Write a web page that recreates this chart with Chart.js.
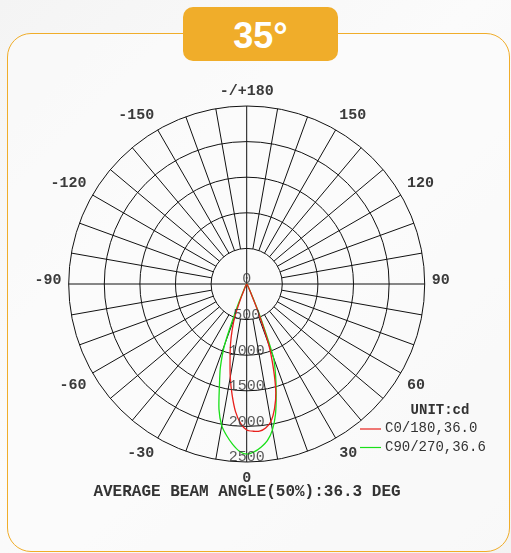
<!DOCTYPE html>
<html>
<head>
<meta charset="utf-8">
<script src="https://cdn.jsdelivr.net/npm/chart.js@4.4.0/dist/chart.umd.min.js"></script>
<style>
    html, body {
        margin: 0;
        padding: 0;
        width: 511px;
        height: 553px;
        overflow: hidden;
        background: linear-gradient(135deg, #f4f4f4 0%, #fbfbfb 45%, #f3f3f3 100%);
        font-family: "Liberation Sans", Arial, sans-serif;
    }
    .card {
        position: absolute;
        left: 7px;
        top: 33px;
        width: 501px;
        height: 517px;
        border: 1.5px solid #f0ad2a;
        border-radius: 24px;
        background: rgba(252, 252, 252, 0.6);
    }
    .badge {
        position: absolute;
        left: 183px;
        top: 7px;
        width: 155px;
        height: 54px;
        border-radius: 10px;
        background: #f0ad2a;
        color: #fff;
        font-weight: bold;
        font-size: 36px;
        line-height: 58px;
        text-align: center;
    }
    #chart {
        position: absolute;
        left: 0;
        top: 0;
    }
</style>
</head>
<body>
<div class="card"></div>
<div class="badge">35°</div>
<canvas id="chart" width="511" height="553"></canvas>
<script>
// gamma angles (deg from nadir) and intensities in cd
const gammaAngles = [0, 2.5, 5, 7.5, 10, 12.5, 15, 17.5, 20, 22.5, 25, 30, 40, 60, 90];
const c0Values = [2050, 2070, 2075, 2040, 1960, 1800, 1580, 1250, 900, 400, 120, 30, 5, 0, 0];
const c180Values = [2050, 1960, 1800, 1570, 1330, 1080, 880, 680, 480, 200, 60, 20, 5, 0, 0];
const c90Values = [2390, 2360, 2300, 2220, 2080, 1870, 1600, 1350, 1100, 500, 150, 40, 10, 0, 0];
const c270Values = [2390, 2350, 2260, 2150, 2020, 1800, 1480, 1230, 900, 350, 100, 30, 10, 0, 0];

const ringValues = [500, 1000, 1500, 2000, 2500];
const radialLabels = ['0', '500', '1000', '1500', '2000', '2500'];
const angleTicks = [0, 30, 60, 90, 120, 150, 180, 210, 240, 270, 300, 330];
const angleLabels = ['0', '30', '60', '90', '120', '150', '-/+180', '-150', '-120', '-90', '-60', '-30'];
const seriesNames = ['C0/180,36.0', 'C90/270,36.6'];
const unitLabel = 'UNIT:cd';
const footerText = 'AVERAGE BEAM ANGLE(50%):36.3 DEG';
const maxValue = 2500;

// one closed lobe: right half (going up from nadir reversed) then left half
function lobe(right, left) {
    const pts = [];
    for (let i = gammaAngles.length - 1; i >= 0; i--) {
        const g = gammaAngles[i] * Math.PI / 180;
        pts.push({ x: right[i] * Math.sin(g), y: -right[i] * Math.cos(g) });
    }
    for (let i = 1; i < gammaAngles.length; i++) {
        const g = gammaAngles[i] * Math.PI / 180;
        pts.push({ x: -left[i] * Math.sin(g), y: -left[i] * Math.cos(g) });
    }
    return pts;
}

const polarGrid = {
    id: 'polarGrid',
    beforeDatasetsDraw(chart) {
        const ctx = chart.ctx;
        const xs = chart.scales.x;
        const ys = chart.scales.y;
        const px = (v, a) => xs.getPixelForValue(v * Math.sin(a * Math.PI / 180));
        const py = (v, a) => ys.getPixelForValue(-v * Math.cos(a * Math.PI / 180));
        const cx = xs.getPixelForValue(0);
        const cy = ys.getPixelForValue(0);

        ctx.save();
        ctx.strokeStyle = '#111';
        ctx.lineWidth = 1;

        // rings
        ringValues.forEach(v => {
            const r = xs.getPixelForValue(v) - cx;
            ctx.beginPath();
            ctx.arc(cx, cy, r, 0, Math.PI * 2);
            ctx.stroke();
        });

        // spokes every 10 deg, from first ring out
        for (let a = 0; a < 360; a += 10) {
            const inner = (a % 90 === 0) ? 0 : ringValues[0];
            ctx.beginPath();
            ctx.moveTo(px(inner, a), py(inner, a));
            ctx.lineTo(px(maxValue, a), py(maxValue, a));
            ctx.stroke();
        }

        // angle labels: anchored just outside the outer ring
        ctx.fillStyle = '#3a3a3a';
        ctx.font = 'bold 15px "Liberation Mono", "Courier New", monospace';
        ctx.textBaseline = 'middle';
        const v = maxValue * 1.04;
        angleTicks.forEach((a, i) => {
            const s = Math.round(Math.sin(a * Math.PI / 180) * 1000) / 1000;
            const c = Math.round(Math.cos(a * Math.PI / 180) * 1000) / 1000;
            ctx.textAlign = s > 0 ? 'left' : (s < 0 ? 'right' : 'center');
            let dy = c > 0 ? 9 : (c < 0 ? -8 : -4);
            ctx.fillText(angleLabels[i], px(v, a), py(v, a) + dy);
        });
        ctx.restore();
    },
    afterDatasetsDraw(chart) {
        const ctx = chart.ctx;
        const xs = chart.scales.x;
        const ys = chart.scales.y;
        const cx = xs.getPixelForValue(0);
        ctx.save();

        // radial value labels
        ctx.fillStyle = 'rgba(60,60,60,0.85)';
        ctx.font = '15px "Liberation Mono", "Courier New", monospace';
        ctx.textAlign = 'center';
        ctx.textBaseline = 'middle';
        radialLabels.forEach((t, i) => {
            ctx.fillText(t, cx, ys.getPixelForValue(-i * 500) - 4.5);
        });

        // legend
        ctx.fillStyle = '#333';
        ctx.font = 'bold 14px "Liberation Mono", "Courier New", monospace';
        ctx.fillText(unitLabel, 440, 410);
        ctx.textAlign = 'left';
        ctx.font = '14px "Liberation Mono", "Courier New", monospace';
        chart.data.datasets.forEach((ds, i) => {
            const y = 429 + i * 18.5;
            ctx.strokeStyle = ds.borderColor;
            ctx.lineWidth = 1.2;
            ctx.beginPath();
            ctx.moveTo(360, y);
            ctx.lineTo(381, y);
            ctx.stroke();
            ctx.fillText(seriesNames[i], 385, y - 0.5);
        });

        // footer
        ctx.textAlign = 'center';
        ctx.font = 'bold 16px "Liberation Mono", "Courier New", monospace';
        ctx.fillText(footerText, 247, 492);
        ctx.restore();
    }
};

const ctx = document.getElementById('chart').getContext('2d');
new Chart(ctx, {
    type: 'scatter',
    data: {
        datasets: [{
            label: seriesNames[0],
            data: lobe(c0Values, c180Values),
            showLine: true,
            borderColor: '#e8201c',
            borderWidth: 1.3,
            pointRadius: 0,
            tension: 0.25,
            fill: false
        }, {
            label: seriesNames[1],
            data: lobe(c90Values, c270Values),
            showLine: true,
            borderColor: '#19e019',
            borderWidth: 1.3,
            pointRadius: 0,
            tension: 0.25,
            fill: false
        }]
    },
    options: {
        responsive: false,
        animation: false,
        layout: {
            padding: { left: 68.7, right: 86.3, top: 106, bottom: 91 }
        },
        scales: {
            x: { display: false, min: -maxValue, max: maxValue },
            y: { display: false, min: -maxValue, max: maxValue }
        },
        plugins: {
            legend: { display: false },
            tooltip: { enabled: false }
        }
    },
    plugins: [polarGrid]
});
</script>
</body>
</html>
